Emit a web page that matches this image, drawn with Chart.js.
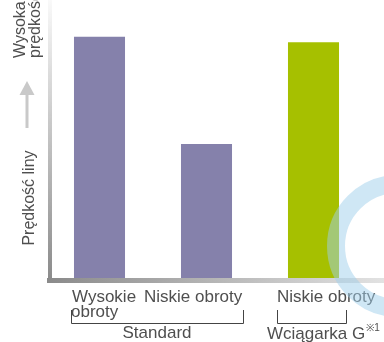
<!DOCTYPE html>
<html><head><meta charset="utf-8">
<script src="https://cdn.jsdelivr.net/npm/chart.js@4/dist/chart.umd.min.js"></script>
<style>html,body{margin:0;padding:0;background:#fff}canvas{display:block}</style>
</head><body>
<canvas id="c" width="384" height="342"></canvas>
<script>
// Winch line speed comparison
const categories = ['Wysokie obroty', 'Niskie obroty', 'Niskie obroty'];
const categoryLines = [['Wysokie', 'obroty'], ['Niskie obroty'], ['Niskie obroty']];
const lineSpeed = [90, 50, 88];
const barColors = ['#8581ab', '#8581ab', '#a6c000'];
const groupNames = ['Standard', 'Wciągarka G'];
const groupNote = '※1';
const axisTitle = 'Prędkość liny';
const axisTopLabel = ['Wysoka', 'prędkość'];

const FONT = "'Liberation Sans', Arial, sans-serif";
const TEXT = '#4f4f4f';

const decor = {
  id: 'decor',
  afterDraw(chart) {
    const ctx = chart.ctx;
    const a = chart.chartArea;
    const x = chart.scales.x;
    const W = chart.width;
    ctx.save();

    // vertical axis: fades out towards the top
    let g = ctx.createLinearGradient(0, 0, 0, a.bottom);
    g.addColorStop(0, 'rgba(140,140,140,0.05)');
    g.addColorStop(1, 'rgba(140,140,140,1)');
    ctx.fillStyle = g;
    ctx.fillRect(a.left + 2, 0, 4, a.bottom + 5);

    // horizontal axis: fades out towards the right
    g = ctx.createLinearGradient(a.left, 0, W, 0);
    g.addColorStop(0, '#8a8a8a');
    g.addColorStop(1, '#e2e2e2');
    ctx.fillStyle = g;
    ctx.fillRect(a.left + 1, a.bottom, W - a.left, 5);

    // category labels
    ctx.fillStyle = TEXT;
    ctx.font = '17px ' + FONT;
    ctx.textAlign = 'left';
    ctx.textBaseline = 'alphabetic';
    const shift = [-27.5, -62.5, -36.5];
    categoryLines.forEach((lines, i) => {
      const cx = x.getPixelForValue(i);
      lines.forEach((t, j) => ctx.fillText(t, cx + shift[i] - (j ? 1 : 0), a.bottom + 24 + j * 15));
    });

    // group brackets
    ctx.strokeStyle = '#444';
    ctx.lineWidth = 1;
    const bracket = (x0, x1) => {
      const y0 = a.bottom + 32, y1 = a.bottom + 45;
      ctx.beginPath();
      ctx.moveTo(x0 + 0.5, y0);
      ctx.lineTo(x0 + 0.5, y1 + 0.5);
      ctx.lineTo(x1 + 0.5, y1 + 0.5);
      ctx.lineTo(x1 + 0.5, y0);
      ctx.stroke();
    };
    const b1 = [x.getPixelForValue(0) - 28.5, x.getPixelForValue(1) + 36.5];
    const b2 = [x.getPixelForValue(2) - 36.5, x.getPixelForValue(2) + 32.5];
    bracket(b1[0], b1[1]);
    bracket(b2[0], b2[1]);

    ctx.textAlign = 'center';
    ctx.fillText(groupNames[0], (b1[0] + b1[1]) / 2, a.bottom + 60);
    ctx.textAlign = 'left';
    const gx = b2[0] - 10;
    ctx.fillText(groupNames[1], gx, a.bottom + 61);
    const gw = ctx.measureText(groupNames[1]).width;
    ctx.font = '10px ' + FONT;
    ctx.fillText(groupNote, gx + gw + 1, a.bottom + 53);

    // y-axis title and arrow
    ctx.font = '16px ' + FONT;
    ctx.save();
    ctx.translate(34, 198);
    ctx.rotate(-Math.PI / 2);
    ctx.textAlign = 'center';
    ctx.fillText(axisTitle, 0, 0);
    ctx.restore();

    ctx.save();
    ctx.translate(0, 58);
    ctx.rotate(-Math.PI / 2);
    ctx.textAlign = 'left';
    ctx.fillText(axisTopLabel[0], 0, 25);
    ctx.fillText(axisTopLabel[1], 0, 40);
    ctx.restore();

    ctx.strokeStyle = '#c9c9c9';
    ctx.fillStyle = '#c9c9c9';
    ctx.lineWidth = 3;
    ctx.beginPath();
    ctx.moveTo(27, 128);
    ctx.lineTo(27, 92);
    ctx.stroke();
    ctx.beginPath();
    ctx.moveTo(27, 81);
    ctx.lineTo(19.5, 95);
    ctx.lineTo(34.5, 95);
    ctx.closePath();
    ctx.fill();

    // light blue ring ornament
    ctx.strokeStyle = 'rgba(160,208,236,0.5)';
    ctx.lineWidth = 18;
    ctx.beginPath();
    ctx.arc(398, 246, 62, 0, Math.PI * 2);
    ctx.stroke();

    ctx.restore();
  }
};

new Chart(document.getElementById('c'), {
  type: 'bar',
  data: {
    labels: categories,
    datasets: [{
      data: lineSpeed,
      backgroundColor: barColors,
      borderWidth: 0,
      barPercentage: 0.477,
      categoryPercentage: 1
    }]
  },
  options: {
    responsive: false,
    animation: false,
    events: [],
    layout: { padding: { left: 46, right: 17, top: 10, bottom: 64 } },
    plugins: { legend: { display: false }, tooltip: { enabled: false } },
    scales: {
      x: { display: false },
      y: { display: false, min: 0, max: 100 }
    }
  },
  plugins: [decor]
});
</script>
</body></html>
